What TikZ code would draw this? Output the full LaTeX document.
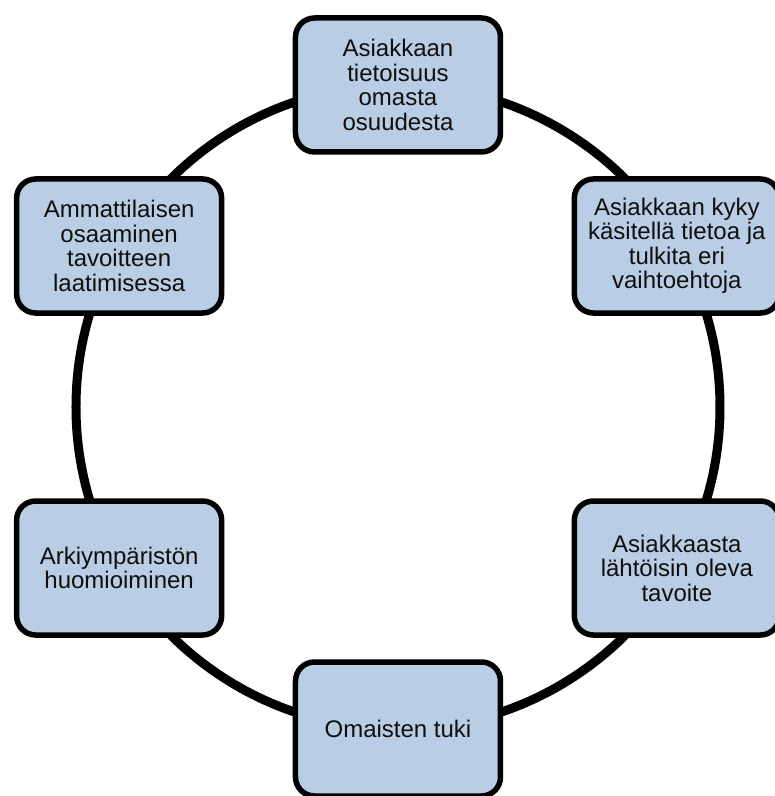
\documentclass[tikz,border=0pt]{standalone}
\usepackage{fontspec}
\setmainfont{Liberation Sans}
\usetikzlibrary{calc,positioning}
\pgfdeclarelayer{background}
\pgfsetlayers{background,main}
\definecolor{boxblue}{RGB}{185,205,229}
\definecolor{textgrey}{RGB}{15,15,15}
\tikzset{
  factor/.style={draw,line width=5.5pt,fill=boxblue,rounded corners=19pt,
    minimum width=205pt,minimum height=134pt,inner sep=0pt,align=center,
    text=textgrey,font=\fontsize{24}{24.5}\selectfont}
}

\begin{document}
\begin{tikzpicture}[x=1pt,y=1pt]
  \useasboundingbox (-398,-389) rectangle (377,407);
  % centre of the ring
  \coordinate (hub) at (0,0);
  % factors
  \node [factor] at ($(hub)+(90:322)$)
    (awareness) {Asiakkaan\\tietoisuus\\omasta\\osuudesta}
  ;
  \node [factor] at ($(hub)+(30:322)$)
    (processing) {Asiakkaan kyky\\käsitellä tietoa ja\\tulkita eri\\vaihtoehtoja}
  ;
  \node [factor] at ($(hub)+(-30:322)$)
    (clientgoal) {Asiakkaasta\\lähtöisin oleva\\tavoite}
  ;
  \node [factor] at ($(hub)+(-90:322)$)
    (relatives) {Omaisten tuki}
  ;
  \node [factor] at ($(hub)+(-150:322)$)
    (environment) {Arkiympäristön\\huomioiminen}
  ;
  \node [factor] at ($(hub)+(150:322)$)
    (expertise) {Ammattilaisen\\osaaminen\\tavoitteen\\laatimisessa}
  ;
  % ring
  \begin{pgfonlayer}{background}
    \draw [line width=9pt]
      (hub) circle [radius=322pt]
    ;
  \end{pgfonlayer}
\end{tikzpicture}
\end{document}
